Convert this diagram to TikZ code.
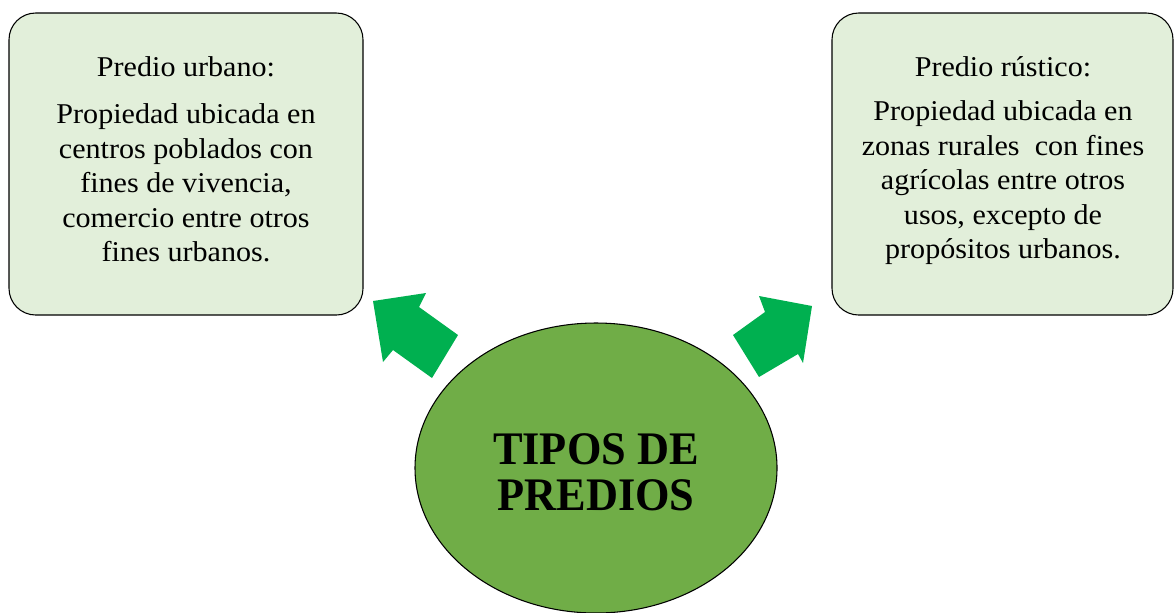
\documentclass[tikz,border=0pt]{standalone}
\usepackage{fontspec}
\setmainfont{Liberation Serif}
\newfontfamily\boxfont[FakeStretch=1.05]{Liberation Serif}
\newfontfamily\titlefont[FakeStretch=0.95]{Liberation Serif}
\definecolor{boxfill}{RGB}{226,239,218}
\definecolor{ellfill}{RGB}{112,173,71}
\definecolor{arrfill}{RGB}{0,176,80}
\tikzset{
  infobox/.style={draw=black, line width=0.8pt, fill=boxfill, rounded corners=20pt},
  boxhead/.style={font=\boxfont\fontsize{21.5}{26}\selectfont, anchor=base, inner sep=0pt},
  boxbody/.style={font=\boxfont\fontsize{21.5}{25.9}\selectfont, align=center, inner sep=0pt},
  centre/.style={draw=black, line width=0.8pt, fill=ellfill},
  centretext/.style={font=\titlefont\bfseries\fontsize{35}{34.5}\selectfont, align=center, inner sep=0pt},
  blockarrow/.style={fill=arrfill}
}
\begin{document}
\begin{tikzpicture}[x=0.75pt,y=-0.75pt]
\useasboundingbox (0,0) rectangle (1176,612);
% boxes
\draw[infobox] (9,13) rectangle (363,315);
\node[boxhead] (lhead) at (186,76) {Predio urbano:};
\node[boxbody] (lbody) at (186,183) {Propiedad ubicada en\\centros poblados con\\fines de vivencia,\\comercio entre otros\\fines urbanos.};
\draw[infobox] (832,13) rectangle (1173,315);
\node[boxhead] (rhead) at (1003,76) {Predio rústico:};
\node[boxbody] (rbody) at (1003,183) {Propiedad ubicada en\\zonas rurales\ \ con fines\\agrícolas entre otros\\usos, excepto de\\propósitos urbanos.};
% central ellipse
\draw[centre] (596,468) ellipse [x radius=181, y radius=145];
\node[centretext] (centre) at (596,472) {TIPOS DE\\PREDIOS};
% block arrows
\fill[blockarrow] (373,301) -- (426,293) -- (419,307) -- (458,335) -- (432,378) -- (393,350) -- (383,362) -- cycle;
\fill[blockarrow] (812,306) -- (759,296) -- (765,312) -- (733,335) -- (759,377) -- (798,354) -- (803,363) -- cycle;
\end{tikzpicture}
\end{document}
